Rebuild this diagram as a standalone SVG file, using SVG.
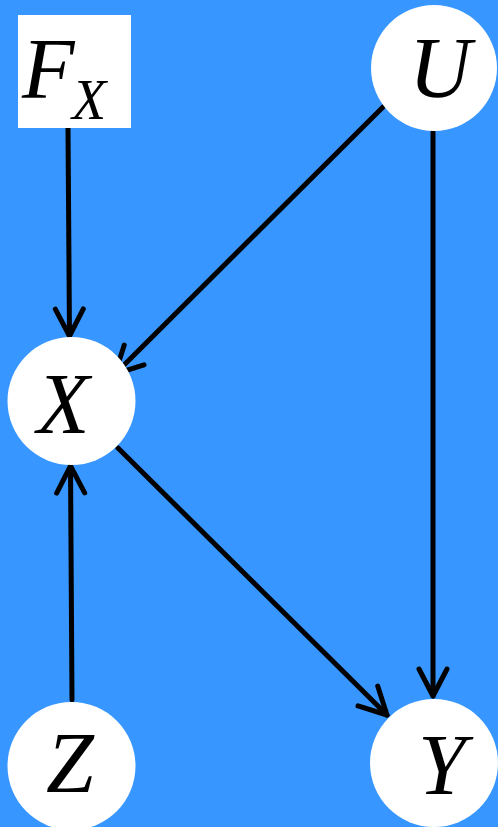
<svg xmlns="http://www.w3.org/2000/svg" width="498" height="827" viewBox="0 0 498 827">
<defs>
<style>
.node{fill:#fff;}
.lbl{font-family:"Liberation Serif","Times New Roman",serif;font-style:italic;fill:#000;font-size:86px;}
.edge{stroke:#000;stroke-width:5;fill:none;stroke-linecap:round;marker-end:url(#arr);}
</style>
<marker id="arr" markerUnits="userSpaceOnUse" viewBox="-34 -18 38 36" refX="0" refY="0" markerWidth="38" markerHeight="36" orient="auto">
<path d="M-27,-14 L0,0 L-27,14" fill="none" stroke="#000" stroke-width="5" stroke-linecap="round" stroke-linejoin="round"/>
</marker>
</defs>
<rect x="0" y="0" width="498" height="827" fill="#3796ff"/>
<g id="connectors">
<path class="edge" d="M68,128 L69.5,336"/>
<path class="edge" d="M383,107 L115,374"/>
<path class="edge" d="M433,132 L433,696"/>
<path class="edge" d="M118,448 L387,715"/>
<path class="edge" d="M72,700 L70.5,466"/>
</g>
<g id="FX">
<rect class="node" x="18" y="15" width="113" height="113"/>
<text class="lbl" x="22" y="98">F</text>
<text class="lbl" x="72" y="119" style="font-size:56px">X</text>
</g>
<g id="U">
<circle class="node" cx="434" cy="68" r="63"/>
<text class="lbl" x="409" y="97">U</text>
</g>
<g id="X">
<circle class="node" cx="71.5" cy="401" r="64"/>
<text class="lbl" x="37" y="433">X</text>
</g>
<g id="Z">
<circle class="node" cx="71.5" cy="766" r="64"/>
<text class="lbl" x="46" y="792">Z</text>
</g>
<g id="Y">
<circle class="node" cx="434" cy="763" r="64"/>
<text class="lbl" x="418" y="794">Y</text>
</g>
</svg>
